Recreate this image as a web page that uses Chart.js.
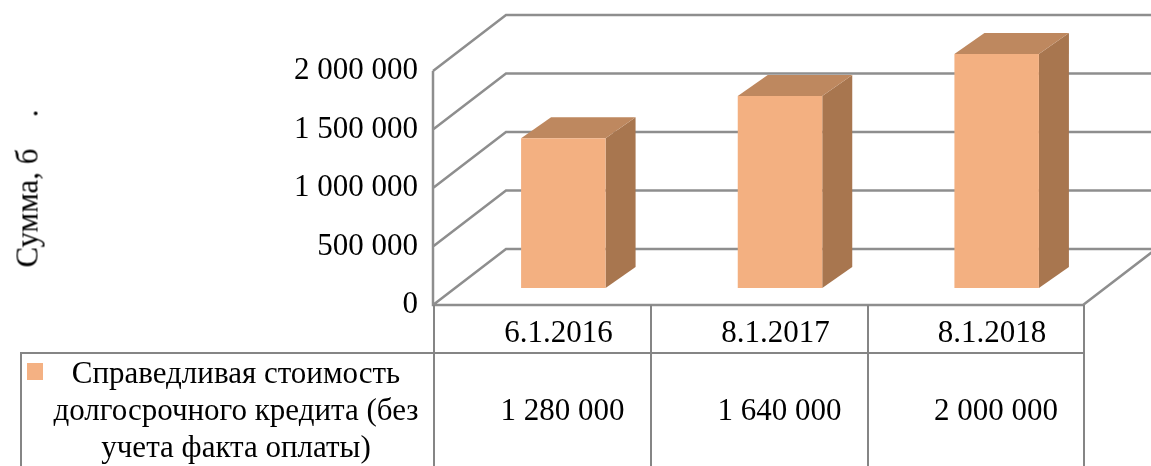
<!DOCTYPE html>
<html>
<head>
<meta charset="utf-8">
<script src="https://cdn.jsdelivr.net/npm/chart.js@4.4.1/dist/chart.umd.min.js"></script>
<style>
  body { margin: 0; background: #fff; }
  #wrap {
    position: relative; width: 1151px; height: 466px; overflow: hidden;
    font-family: "Liberation Serif", "Times New Roman", serif; font-size: 31px; color: #000;
  }
  #c { position: absolute; left: 0; top: 0; }
  .cell {
    position: absolute; box-sizing: border-box; border: 0 solid #858585;
    text-align: center; white-space: nowrap;
  }
  #ylabel {
    position: absolute; left: -73px; top: 173px; width: 200px; height: 31px;
    line-height: 31px; text-align: center; white-space: pre; transform: rotate(-90deg);
  }
  .key { position: absolute; left: 27px; top: 363px; width: 16px; height: 17px; background: #f4b183; }
</style>
</head>
<body>
<div id="wrap">
  <canvas id="c" width="1151" height="466"></canvas>
  <div id="ylabel"></div>
</div>
<script>
const categories = ["6.1.2016", "8.1.2017", "8.1.2018"];
const values = [1280000, 1640000, 2000000];
const seriesLines = ["Справедливая стоимость", "долгосрочного кредита (без", "учета факта оплаты)"];
const yTicks = [0, 500000, 1000000, 1500000, 2000000];
const yTitle = "Сумма, б    .";

const fmt = v => String(v).replace(/\B(?=(\d{3})+(?!\d))/g, " ");

// fake 3d: depth of the walls, where the bars sit inside it, and bar thickness
const WALL = { dx: 73, dy: -56 };
const BAR_OFF = { dx: 22, dy: -17 };
const BAR_DEPTH = { dx: 30, dy: -21 };

const bar3d = {
  id: "bar3d",
  beforeDatasetsDraw(chart) {
    const ctx = chart.ctx, a = chart.chartArea, y = chart.scales.y;
    ctx.save();
    ctx.strokeStyle = "#8e8e8e";
    ctx.lineWidth = 2.5;
    ctx.beginPath();
    yTicks.forEach(v => {
      const py = y.getPixelForValue(v);
      ctx.moveTo(a.left, py);
      ctx.lineTo(a.left + WALL.dx, py + WALL.dy);
      ctx.lineTo(chart.width, py + WALL.dy);
    });
    // front edges of the side wall and the floor
    ctx.moveTo(a.left, a.top);
    ctx.lineTo(a.left, a.bottom);
    ctx.lineTo(a.right, a.bottom);
    ctx.lineTo(a.right + WALL.dx, a.bottom + WALL.dy);
    ctx.stroke();
    ctx.restore();

    // bars are pushed back into the box; side and top faces go first
    ctx.save();
    ctx.translate(BAR_OFF.dx, BAR_OFF.dy);
    chart.getDatasetMeta(0).data.forEach(b => {
      const l = b.x - b.width / 2, r = b.x + b.width / 2;
      ctx.fillStyle = "#a8764f";
      ctx.beginPath();
      ctx.moveTo(r, b.y);
      ctx.lineTo(r + BAR_DEPTH.dx, b.y + BAR_DEPTH.dy);
      ctx.lineTo(r + BAR_DEPTH.dx, b.base + BAR_DEPTH.dy);
      ctx.lineTo(r, b.base);
      ctx.closePath();
      ctx.fill();
      ctx.fillStyle = "#be885f";
      ctx.beginPath();
      ctx.moveTo(l, b.y);
      ctx.lineTo(l + BAR_DEPTH.dx, b.y + BAR_DEPTH.dy);
      ctx.lineTo(r + BAR_DEPTH.dx, b.y + BAR_DEPTH.dy);
      ctx.lineTo(r, b.y);
      ctx.closePath();
      ctx.fill();
    });
  },
  afterDatasetsDraw(chart) {
    chart.ctx.restore();
  }
};

new Chart(document.getElementById("c"), {
  type: "bar",
  data: {
    labels: categories,
    datasets: [{
      label: seriesLines.join(" "),
      data: values,
      backgroundColor: "#f3b081",
      borderWidth: 0,
      barPercentage: 0.39,
      categoryPercentage: 1,
      clip: false
    }]
  },
  options: {
    responsive: false,
    devicePixelRatio: 1,
    animation: false,
    layout: { padding: { left: 0, right: 68, top: 71, bottom: 161 } },
    plugins: { legend: { display: false }, tooltip: { enabled: false } },
    scales: {
      x: { display: false, offset: true, grid: { display: false } },
      y: {
        min: 0,
        max: 2000000,
        afterBuildTicks(s) { s.ticks = yTicks.map(v => ({ value: v })); },
        afterFit(s) { s.width = 433; },
        grid: { display: false, drawTicks: false },
        border: { display: false },
        ticks: {
          padding: 15,
          color: "#000",
          font: { family: "Liberation Serif", size: 31 },
          callback: v => fmt(v)
        }
      }
    }
  },
  plugins: [bar3d]
});

// y title and the data table under the plot
const wrap = document.getElementById("wrap");
document.getElementById("ylabel").textContent = yTitle;

function cell(css, html) {
  const d = document.createElement("div");
  d.className = "cell";
  Object.assign(d.style, css);
  d.innerHTML = html;
  wrap.appendChild(d);
  return d;
}

const colX = [433, 650, 867, 1083];
categories.forEach((c, i) => {
  const last = i === categories.length - 1;
  cell({
    left: colX[i] + "px", top: "305px", width: (colX[i + 1] - colX[i] + (last ? 2 : 0)) + "px", height: "47px",
    borderLeftWidth: "2px", borderRightWidth: last ? "2px" : "0",
    paddingLeft: "32px", paddingTop: "6px", lineHeight: "41px"
  }, c);
  cell({
    left: colX[i] + "px", top: "352px", width: (colX[i + 1] - colX[i] + (last ? 2 : 0)) + "px", height: "114px",
    borderLeftWidth: "2px", borderTopWidth: "2px", borderRightWidth: last ? "2px" : "0",
    paddingLeft: "40px", lineHeight: "112px"
  }, fmt(values[i]));
});
cell({
  left: "20px", top: "352px", width: "413px", height: "114px",
  borderLeftWidth: "2px", borderTopWidth: "2px",
  paddingLeft: "17px", lineHeight: "37px"
}, seriesLines.join("<br>"));
const key = document.createElement("div");
key.className = "key";
wrap.appendChild(key);
</script>
</body>
</html>
